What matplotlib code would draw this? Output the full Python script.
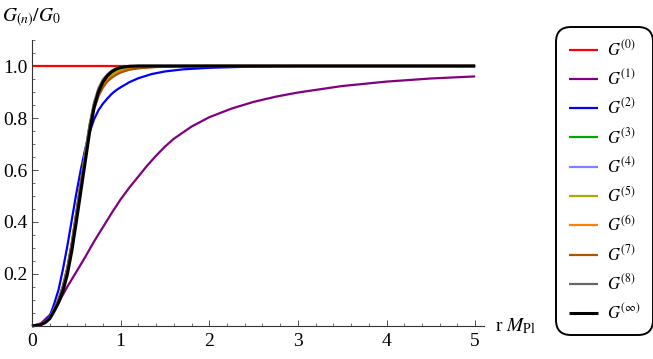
import numpy as np
import matplotlib
matplotlib.use("Agg")
import matplotlib.pyplot as plt
from matplotlib.ticker import MultipleLocator, FixedLocator

plt.rcParams['font.family'] = ['Liberation Serif', 'DejaVu Serif']
plt.rcParams['mathtext.fontset'] = 'stix'

# r*M_Pl grid for the steep curves
r = [0, 0.1, 0.15, 0.2, 0.25, 0.3, 0.35, 0.4, 0.45, 0.5, 0.55, 0.6, 0.65, 0.7, 0.75,
     0.8, 0.85, 0.9, 0.95, 1.0, 1.1, 1.2, 1.35, 1.5, 1.7, 2.0, 2.5, 3.0, 4.0, 5.0]

g0 = [1.0] * len(r)
g2 = [0, 0.006, 0.016, 0.037, 0.085, 0.14, 0.22, 0.31, 0.41, 0.51, 0.6, 0.68, 0.745, 0.795, 0.83,
      0.855, 0.875, 0.893, 0.907, 0.918, 0.938, 0.953, 0.969, 0.979, 0.987, 0.993, 0.998, 1, 1, 1]
g3 = [0, 0.006, 0.015, 0.031, 0.063, 0.1, 0.151, 0.222, 0.318, 0.433, 0.551, 0.666, 0.772, 0.853, 0.906,
      0.941, 0.963, 0.977, 0.987, 0.993, 0.998, 1, 1, 1, 1, 1, 1, 1, 1, 1]
g4 = [0, 0.006, 0.015, 0.031, 0.063, 0.1, 0.15, 0.22, 0.315, 0.43, 0.548, 0.662, 0.767, 0.848, 0.9,
      0.935, 0.958, 0.973, 0.984, 0.991, 0.997, 0.999, 1, 1, 1, 1, 1, 1, 1, 1]
g5 = [0, 0.006, 0.015, 0.031, 0.063, 0.101, 0.152, 0.224, 0.318, 0.432, 0.549, 0.662, 0.764, 0.842, 0.893,
      0.927, 0.95, 0.965, 0.976, 0.984, 0.992, 0.996, 0.998, 0.999, 1, 1, 1, 1, 1, 1]
g6 = [0, 0.006, 0.015, 0.032, 0.065, 0.103, 0.155, 0.227, 0.321, 0.435, 0.551, 0.662, 0.762, 0.838, 0.888,
      0.921, 0.943, 0.958, 0.969, 0.977, 0.987, 0.992, 0.996, 0.998, 0.999, 1, 1, 1, 1, 1]
g7 = [0, 0.006, 0.015, 0.032, 0.065, 0.103, 0.155, 0.226, 0.32, 0.433, 0.548, 0.658, 0.757, 0.833, 0.884,
      0.917, 0.94, 0.955, 0.966, 0.975, 0.986, 0.991, 0.995, 0.998, 0.999, 1, 1, 1, 1, 1]
g8 = [0, 0.006, 0.015, 0.031, 0.063, 0.1, 0.15, 0.22, 0.315, 0.43, 0.55, 0.665, 0.775, 0.86, 0.915,
      0.948, 0.968, 0.982, 0.991, 0.996, 0.999, 1, 1, 1, 1, 1, 1, 1, 1, 1]
ginf = [0, 0.005, 0.013, 0.028, 0.057, 0.09, 0.135, 0.2, 0.29, 0.4, 0.515, 0.63, 0.745, 0.84, 0.9,
        0.938, 0.962, 0.978, 0.988, 0.994, 0.999, 1, 1, 1, 1, 1, 1, 1, 1, 1]

# G^(1) read separately (slow approach)
r1 = [0, 0.1, 0.2, 0.3, 0.4, 0.5, 0.6, 0.7, 0.8, 0.9, 1.0, 1.1, 1.2, 1.3, 1.4, 1.5, 1.6,
      1.8, 2.0, 2.25, 2.5, 2.75, 3.0, 3.5, 4.0, 4.5, 5.0]
g1 = [0, 0.01, 0.042, 0.09, 0.152, 0.208, 0.265, 0.325, 0.38, 0.435, 0.487, 0.533, 0.575,
      0.617, 0.655, 0.69, 0.72, 0.767, 0.803, 0.836, 0.862, 0.882, 0.898, 0.923, 0.94, 0.952, 0.96]

labels = ['$G^{(0)}$', '$G^{(1)}$', '$G^{(2)}$', '$G^{(3)}$', '$G^{(4)}$',
          '$G^{(5)}$', '$G^{(6)}$', '$G^{(7)}$', '$G^{(8)}$', r'$G^{(\infty)}$']
colors = ['#ff0000', '#800080', '#0000ff', '#00aa00', '#8080ff',
          '#aaaa00', '#ff8000', '#aa5500', '#666666', '#000000']

fig = plt.figure(figsize=(6.53, 3.59), dpi=100)
ax = fig.add_axes([32 / 653, 33 / 359, 452 / 653, 286 / 359])

series = [(r, g0), (r1, g1), (r, g2), (r, g3), (r, g4), (r, g5), (r, g6), (r, g7), (r, g8), (r, ginf)]
for i, (xs, ys) in enumerate(series):
    lw = 2.2 if i == 9 else 1.6
    ax.plot(xs, ys, color=colors[i], lw=lw, label=labels[i], clip_on=False,
            solid_joinstyle='round', solid_capstyle='butt')

ax.set_xlim(0, 5.1)
ax.set_ylim(0, 1.1)
for s in ['top', 'right']:
    ax.spines[s].set_visible(False)
for s in ['left', 'bottom']:
    ax.spines[s].set_color('#333333')
    ax.spines[s].set_linewidth(0.8)

ax.xaxis.set_major_locator(FixedLocator([0, 1, 2, 3, 4, 5]))
ax.xaxis.set_minor_locator(MultipleLocator(0.2))
ax.yaxis.set_major_locator(FixedLocator([0.2, 0.4, 0.6, 0.8, 1.0]))
ax.yaxis.set_minor_locator(MultipleLocator(0.05))
ax.set_xticklabels(['0', '1', '2', '3', '4', '5'])
ax.set_yticklabels(['0.2', '0.4', '0.6', '0.8', '1.0'])
ax.tick_params(which='major', direction='in', length=4, width=0.6, color='#333333',
               labelsize=14)
ax.tick_params(which='minor', direction='in', length=2.2, width=0.5, color='#333333')
ax.tick_params(axis='x', which='major', pad=5)
ax.tick_params(axis='y', which='major', pad=3)

ax.text(1.024, 0.0, r'r $M_{\mathrm{Pl}}$', transform=ax.transAxes, fontsize=14,
        ha='left', va='center')
fig.text(2 / 653, 1 - 18 / 359, r'$G_{(n)}/G_0$', fontsize=14, ha='left', va='center')

leg = fig.legend(loc='upper left', bbox_to_anchor=(556 / 653, 1 - 27 / 359),
                 borderaxespad=0, fontsize=12, frameon=True, fancybox=True,
                 labelspacing=0.56, borderpad=0.75, handlelength=1.75, handletextpad=0.55)
leg.get_frame().set_edgecolor('black')
leg.get_frame().set_linewidth(1.4)
leg.get_frame().set_alpha(1)
leg.legendPatch.set_boxstyle('round,pad=0,rounding_size=0.9')

fig.savefig('out.png', dpi=100)
